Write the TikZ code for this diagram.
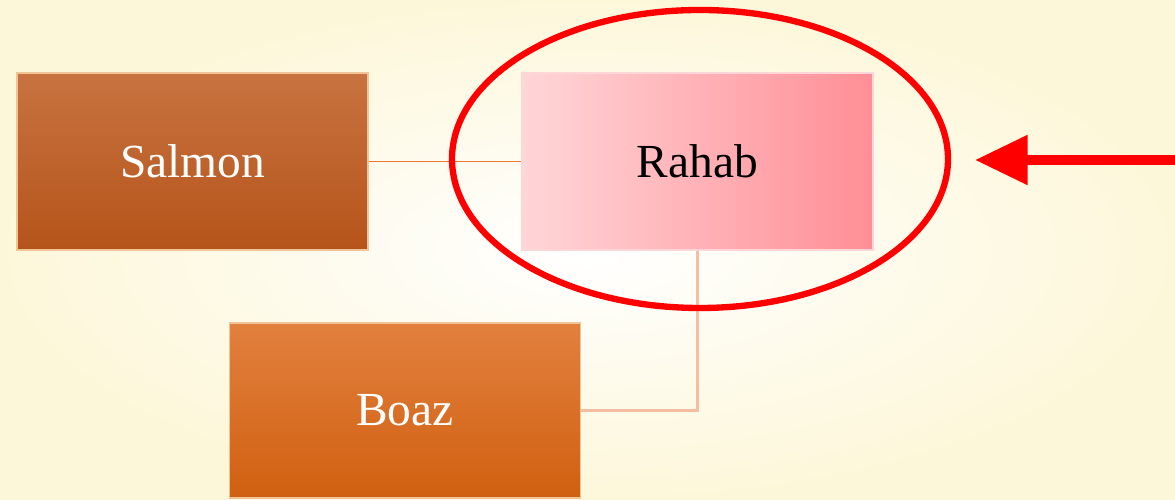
\documentclass[tikz,border=0pt]{standalone}
\usepackage{fontspec}
\setmainfont{Liberation Serif}
\usetikzlibrary{arrows.meta,shapes.geometric}
\definecolor{cream}{RGB}{253,247,218}
\definecolor{rust}{RGB}{200,115,64}
\definecolor{rustdark}{RGB}{181,84,26}
\definecolor{pinklight}{RGB}{255,214,216}
\definecolor{pinkdark}{RGB}{255,142,150}
\definecolor{tangerine}{RGB}{226,128,62}
\definecolor{tangerinedark}{RGB}{208,96,16}
\definecolor{tanedge}{RGB}{240,196,150}
\definecolor{linkorange}{RGB}{236,120,50}
\definecolor{linkpeach}{RGB}{245,190,160}

\begin{document}
\begin{tikzpicture}[
	person/.style={rectangle, draw=tanedge, line width=0.8pt, minimum width=7.02cm, minimum height=3.54cm, inner sep=0pt, font=\fontsize{27}{32}\selectfont},
	]
		\useasboundingbox (0,0) rectangle (23.5,10);
		\shade[inner color=white, outer color=cream] (0,0) rectangle (23.5,10);
		
		\node[person, top color=rust, bottom color=rustdark, text=white] (salmon) at (3.85,6.77) {Salmon};
		\node[person, left color=pinklight, right color=pinkdark, draw=pinklight, text=black] (rahab) at (13.95,6.77) {Rahab};
		\node[person, minimum height=3.5cm, top color=tangerine, bottom color=tangerinedark, text=white] (boaz) at (8.1,1.79) {Boaz};
		
		\draw[linkorange, line width=0.9pt] (salmon.east) -- (rahab.west);
		\draw[linkpeach, line width=1.6pt] (rahab.south) |- (boaz.east);
		
		% highlight
		\node[ellipse, draw=red, line width=3.6pt, minimum width=9.92cm, minimum height=5.96cm] (ring) at (14.0,6.82) {};
		\coordinate (tail) at (23.5,6.8);
		\coordinate (tip) at (19.5,6.8);
		\draw[red, line width=5.5pt, -{Triangle[width=0.95cm,length=1.05cm]}] (tail) -- (tip);
	\end{tikzpicture}
\end{document}
